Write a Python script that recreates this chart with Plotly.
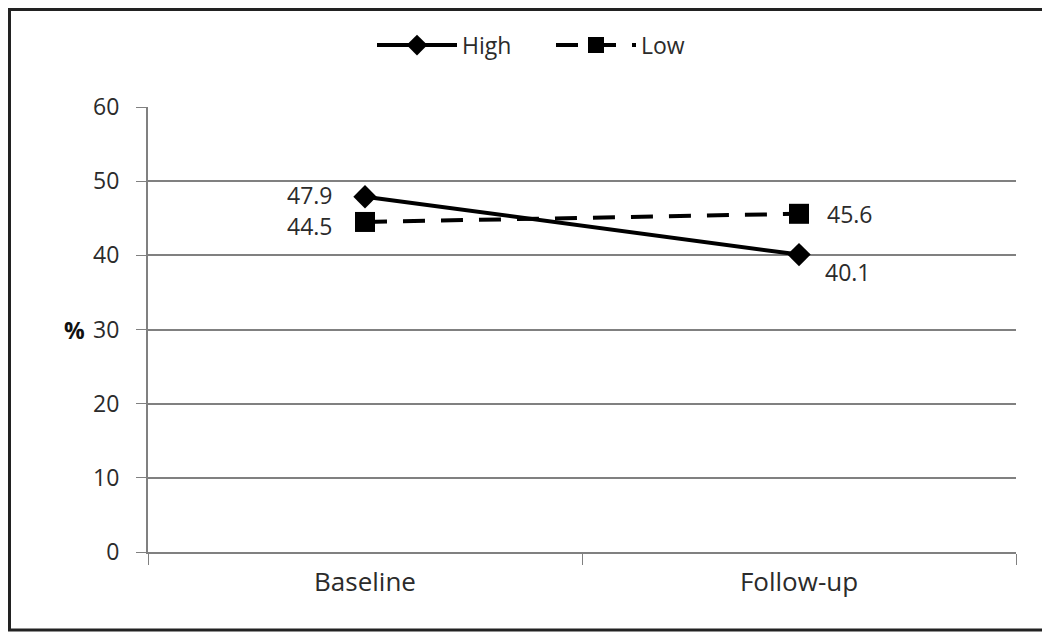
import plotly.graph_objects as go

categories = ["Baseline", "Follow-up"]
high_values = [47.9, 40.1]
low_values = [44.5, 45.6]
y_ticks = [0, 10, 20, 30, 40, 50, 60]

# The page body has an 8px margin, so the figure is drawn 8px smaller
W, H = 1042, 624
ML, MR, MT, MB = 140, 34, 99, 80
PW, PH = W - ML - MR, H - MT - MB

FONT = "Open Sans"
TXT = "#2b2b2b"
GRID = "#808080"

fig = go.Figure()
fig.add_trace(go.Scatter(
    x=categories, y=high_values, name="High", mode="lines+markers",
    line=dict(color="black", width=4),
    marker=dict(symbol="diamond", size=18, color="black"),
    cliponaxis=False,
))
fig.add_trace(go.Scatter(
    x=categories, y=low_values, name="Low", mode="lines+markers",
    line=dict(color="black", width=4, dash="22px,16px"),
    marker=dict(symbol="square", size=20, color="black"),
    cliponaxis=False,
))

# data labels (offsets are styling only)
label_style = {
    "High": [dict(xanchor="right", xshift=-30, yshift=2), dict(xanchor="left", xshift=24, yshift=-17)],
    "Low": [dict(xanchor="right", xshift=-30, yshift=-4), dict(xanchor="left", xshift=26, yshift=0)],
}
for name, vals in (("High", high_values), ("Low", low_values)):
    for cat, v, st in zip(categories, vals, label_style[name]):
        fig.add_annotation(x=cat, y=v, text=f"{v:.1f}", showarrow=False,
                           font=dict(family=FONT, size=23, color=TXT), **st)

fig.update_layout(
    width=W, height=H,
    margin=dict(l=ML, r=MR, t=MT, b=MB),
    paper_bgcolor="white", plot_bgcolor="white",
    font=dict(family=FONT, size=23, color=TXT),
    showlegend=True,
    legend=dict(orientation="h", x=(372 - 8 - ML) / PW, xanchor="left", y=1.139, yanchor="middle",
                font=dict(family=FONT, size=23, color=TXT), itemwidth=80,
                entrywidth=84, entrywidthmode="pixels",
                bgcolor="rgba(0,0,0,0)"),
    xaxis=dict(type="category", tickson="boundaries", ticks="outside", ticklen=11,
               tickcolor=GRID, showline=True, linecolor=GRID, linewidth=2,
               showgrid=False, zeroline=False, range=[-0.5, 1.5],
               ticklabelstandoff=6,
               tickfont=dict(family=FONT, size=26, color=TXT)),
    yaxis=dict(range=[0, 60], tickvals=y_ticks, ticks="outside", ticklen=10,
               tickcolor=GRID, showline=True, linecolor=GRID, linewidth=2,
               showgrid=True, gridcolor=GRID, gridwidth=1.5, zeroline=False,
               ticklabelstandoff=12,
               tickfont=dict(family=FONT, size=23, color=TXT)),
)

fig.add_annotation(text="<b>%</b>", xref="paper", yref="y", x=(54 - ML) / PW, y=30,
                   showarrow=False, font=dict(family=FONT, size=23, color="#111111"))

fig.add_shape(type="rect", xref="paper", yref="paper",
              x0=(1.5 - ML) / PW, x1=(W - 2 - ML) / PW,
              y0=-(H - 2 - MT - PH) / PH, y1=1 + (MT - 1.5) / PH,
              line=dict(color="#222222", width=3), layer="above")

fig.write_html("out.html")
